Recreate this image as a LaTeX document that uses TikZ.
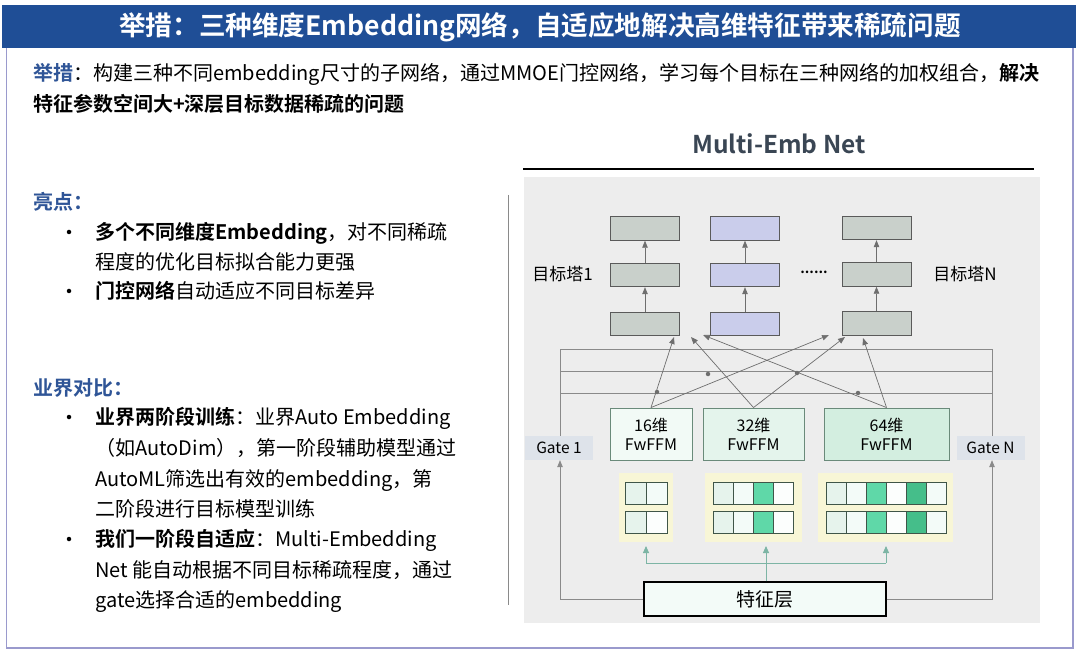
\documentclass[tikz,border=0pt]{standalone}
\usepackage{fontspec}
\setmainfont{Noto Sans CJK SC}[BoldFont={Noto Sans CJK SC Bold}]
\usetikzlibrary{arrows.meta,calc}
\definecolor{titleblue}{HTML}{1F4E96}
\definecolor{labelblue}{HTML}{2F5597}
\definecolor{framec}{HTML}{9A9ACD}
\definecolor{panelc}{HTML}{EDEDED}
\definecolor{towergrey}{HTML}{C9D0CB}
\definecolor{towerblue}{HTML}{CACDEB}
\definecolor{towerborder}{HTML}{5A5A5A}
\definecolor{ffmA}{HTML}{F2FAF6}
\definecolor{ffmB}{HTML}{E4F4EC}
\definecolor{ffmC}{HTML}{D3EEE0}
\definecolor{ffmborder}{HTML}{6A8A7A}
\definecolor{cA}{HTML}{E6F3EC}
\definecolor{cB}{HTML}{F3FBF8}
\definecolor{cG}{HTML}{5FD8A8}
\definecolor{cW}{HTML}{FCFEFD}
\definecolor{cD}{HTML}{45BE8A}
\definecolor{cellborder}{HTML}{3F5548}
\definecolor{gatebg}{HTML}{DEE3EA}
\definecolor{netgrey}{HTML}{3A4654}
\definecolor{wirec}{HTML}{8A8A8A}
\definecolor{arrc}{HTML}{6E6E6E}
\definecolor{tealc}{HTML}{7DB5A5}
\definecolor{haloc}{HTML}{F8F6D6}
\begin{document}
\begin{tikzpicture}[x=1pt,y=-1pt,
  txt/.style={anchor=base west, inner sep=0pt, font=\fontsize{20}{24}\selectfont},
  bul/.style={circle, fill=black, inner sep=0pt, minimum size=4.5pt},
  tower/.style={draw=towerborder, line width=0.9pt, fill=towergrey, minimum width=69pt, minimum height=23.5pt, inner sep=0pt},
  ffm/.style={draw=ffmborder, line width=0.9pt, minimum height=52pt, inner sep=0pt, align=center, font=\fontsize{16}{19}\selectfont},
  gate/.style={fill=gatebg, minimum width=68pt, minimum height=24pt, inner sep=0pt, font=\fontsize{15.5}{18}\selectfont},
  lbl/.style={inner sep=0pt, font=\fontsize{17}{20}\selectfont},
  arr/.style={draw=arrc, line width=0.7pt, -{Triangle[length=7pt,width=5.5pt]}, shorten >=0pt},
  wire/.style={draw=wirec, line width=0.8pt},
  teal/.style={draw=tealc, line width=0.8pt},
  tarr/.style={draw=tealc, line width=0.8pt, -{Triangle[length=7pt,width=6pt]}},
  dotm/.style={circle, fill=arrc, inner sep=0pt, minimum size=4.5pt}
]
\useasboundingbox (0,0) rectangle (1080,655);
\fill[white] (0,0) rectangle (1080,655);
% frame and title bar
\draw[framec, line width=1.3pt] (6.5,47) rectangle (1073,648);
\fill[titleblue] (2,5) rectangle (1076,48);
\node[inner sep=0pt, text=white, font=\bfseries\fontsize{26.6}{30}\selectfont] (title) at (540,27) {举措：三种维度Embedding网络，自适应地解决高维特征带来稀疏问题};

% description
\node[txt] (d1) at (33,80.6) {{\bfseries\color{labelblue}举措}：构建三种不同embedding尺寸的子网络，通过MMOE门控网络，学习每个目标在三种网络的加权组合，\textbf{解决}};
\node[txt, font=\bfseries\fontsize{20}{24}\selectfont] (d2) at (33,111.6) {特征参数空间大+深层目标数据稀疏的问题};

% highlights
\node[txt, font=\bfseries\fontsize{20}{24}\selectfont, text=labelblue] (hl) at (33,209.6) {亮点：};
\node[bul] (b1) at (69,232) {};
\node[txt] (i1) at (95,239.5) {\textbf{多个不同维度Embedding}，对不同稀疏};
\node[txt] (i1b) at (95,269.5) {程度的优化目标拟合能力更强};
\node[bul] (b2) at (69,291) {};
\node[txt] (i2) at (95,298.5) {\textbf{门控网络}自动适应不同目标差异};

% comparison
\node[txt, font=\bfseries\fontsize{20}{24}\selectfont, text=labelblue] (cmp) at (33,395.6) {业界对比：};
\node[bul] (b3) at (69,417) {};
\node[txt] (j1) at (95,424.5) {\textbf{业界两阶段训练}：业界Auto Embedding};
\node[txt] (j1b) at (95,455.5) {（如AutoDim），第一阶段辅助模型通过};
\node[txt] (j1c) at (95,486) {AutoML筛选出有效的embedding，第};
\node[txt] (j1d) at (95,516.5) {二阶段进行目标模型训练};
\node[bul] (b4) at (69,539) {};
\node[txt] (j2) at (95,546.5) {\textbf{我们一阶段自适应}：Multi-Embedding};
\node[txt] (j2b) at (95,577) {Net 能自动根据不同目标稀疏程度，通过};
\node[txt] (j2c) at (95,607.5) {gate选择合适的embedding};

% separator
\draw[draw=wirec, line width=0.8pt] (508,195) -- (508,605);

% right diagram header
\node[inner sep=0pt, text=netgrey, font=\bfseries\fontsize{24.5}{28}\selectfont] (net) at (779,144) {Multi-Emb Net};
\draw[black, line width=2.6pt] (523,169) -- (1034,169);
\fill[panelc] (524,177.5) rectangle (1040,623);

% towers
\node[tower] (t1a) at (645,228.5) {};
\node[tower] (t1b) at (645,275) {};
\node[tower] (t1c) at (645,324) {};
\node[tower, fill=towerblue] (t2a) at (745,228.5) {};
\node[tower, fill=towerblue] (t2b) at (745,275) {};
\node[tower, fill=towerblue] (t2c) at (745,324) {};
\node[tower] (tNa) at (876.5,228) {};
\node[tower] (tNb) at (876.5,274.5) {};
\node[tower] (tNc) at (876.5,323.5) {};
\foreach \t in {t1,t2,tN}{
  \draw[arr] (\t c.north) -- (\t b.south);
  \draw[arr] (\t b.north) -- (\t a.south);
}
\node[lbl] (lab1) at (562.5,274) {目标塔1};
\node[lbl] (labN) at (965,274) {目标塔N};
\node[lbl, font=\bfseries\fontsize{14}{16}\selectfont] (dots) at (814,272) {......};

% gate wires
\node[gate] (g1) at (559,448) {Gate 1};
\node[gate] (gN) at (990.5,448) {Gate N};
\coordinate (wl1) at (560,349);
\coordinate (wr1) at (992,349);
\coordinate (wl2) at (560,371);
\coordinate (wr2) at (992,371);
\coordinate (wl3) at (560,393.5);
\coordinate (wr3) at (992,393.5);
\draw[wire] (g1.north -| wl1) -- (wl1) -- (wr1) -- (gN.north -| wr1);
\draw[wire] (wl2) -- (wr2);
\draw[wire] (wl3) -- (wr3);

% FwFFM experts
\node[ffm, fill=ffmA, minimum width=82pt] (f16) at (651,434) {16维\\FwFFM};
\node[ffm, fill=ffmB, minimum width=101pt] (f32) at (753.5,434) {32维\\FwFFM};
\node[ffm, fill=ffmC, minimum width=125pt] (f64) at (886.5,434) {64维\\FwFFM};

% expert to tower arrows
\coordinate (e1a) at (674,337);
\coordinate (e1b) at (691,337);
\coordinate (e1c) at (703,335);
\coordinate (eNa) at (829,335);
\coordinate (eNb) at (845,337);
\coordinate (eNc) at (863,338);
\draw[arr] (f16.north) -- (e1a);
\draw[arr] (f16.north) -- (eNa);
\draw[arr] (f32.north) -- (e1b);
\draw[arr] (f32.north) -- (eNb);
\draw[arr] (f64.north) -- (e1c);
\draw[arr] (f64.north) -- (eNc);
\node[dotm] (m1) at (657,392) {};
\node[dotm] (m2) at (708,374) {};
\node[dotm] (m3) at (797,373) {};
\node[dotm] (m4) at (858,393) {};

% embedding blocks
\fill[haloc] (619,473) rectangle (673,542);
\fill[haloc] (705,473) rectangle (802,542);
\fill[haloc] (818,473) rectangle (953,542);
\foreach \c [count=\i from 0] in {cA,cB}{
  \filldraw[fill=\c, draw=cellborder, line width=0.9pt] (625+21*\i,482) rectangle ++(21,22.5);}
\foreach \c [count=\i from 0] in {cA,cW}{
  \filldraw[fill=\c, draw=cellborder, line width=0.9pt] (625+21*\i,511) rectangle ++(21,22.5);}
\foreach \c [count=\i from 0] in {cA,cB,cG,cW}{
  \filldraw[fill=\c, draw=cellborder, line width=0.9pt] (713.5+20.1*\i,482) rectangle ++(20.1,22.5);
  \filldraw[fill=\c, draw=cellborder, line width=0.9pt] (713.5+20.1*\i,511) rectangle ++(20.1,22.5);}
\foreach \c [count=\i from 0] in {cA,cB,cG,cW,cD,cB}{
  \filldraw[fill=\c, draw=cellborder, line width=0.9pt] (826+20*\i,482) rectangle ++(20,22.5);
  \filldraw[fill=\c, draw=cellborder, line width=0.9pt] (826+20*\i,511) rectangle ++(20,22.5);}

% feature layer
\node[draw=black, line width=1.2pt, fill=cB, minimum width=242pt, minimum height=34pt, inner sep=0pt, font=\fontsize{19}{22}\selectfont] (feat) at (765,599) {特征层};
\coordinate (ta) at (646,546);
\coordinate (tb) at (766,546);
\coordinate (tc) at (886,546);
\coordinate (hl1) at (646,563);
\coordinate (hr1) at (886,563);
\draw[teal] (hl1) -- (hr1);
\draw[tarr] (hl1) -- (ta);
\draw[tarr] (hr1) -- (tc);
\draw[tarr] (feat.north -| tb) -- (tb);

% feature layer to gates
\draw[wire, arr, draw=wirec] (feat.west) -| (g1.south -| wl1);
\draw[wire, arr, draw=wirec] (feat.east) -| (gN.south -| wr1);
\end{tikzpicture}
\end{document}
